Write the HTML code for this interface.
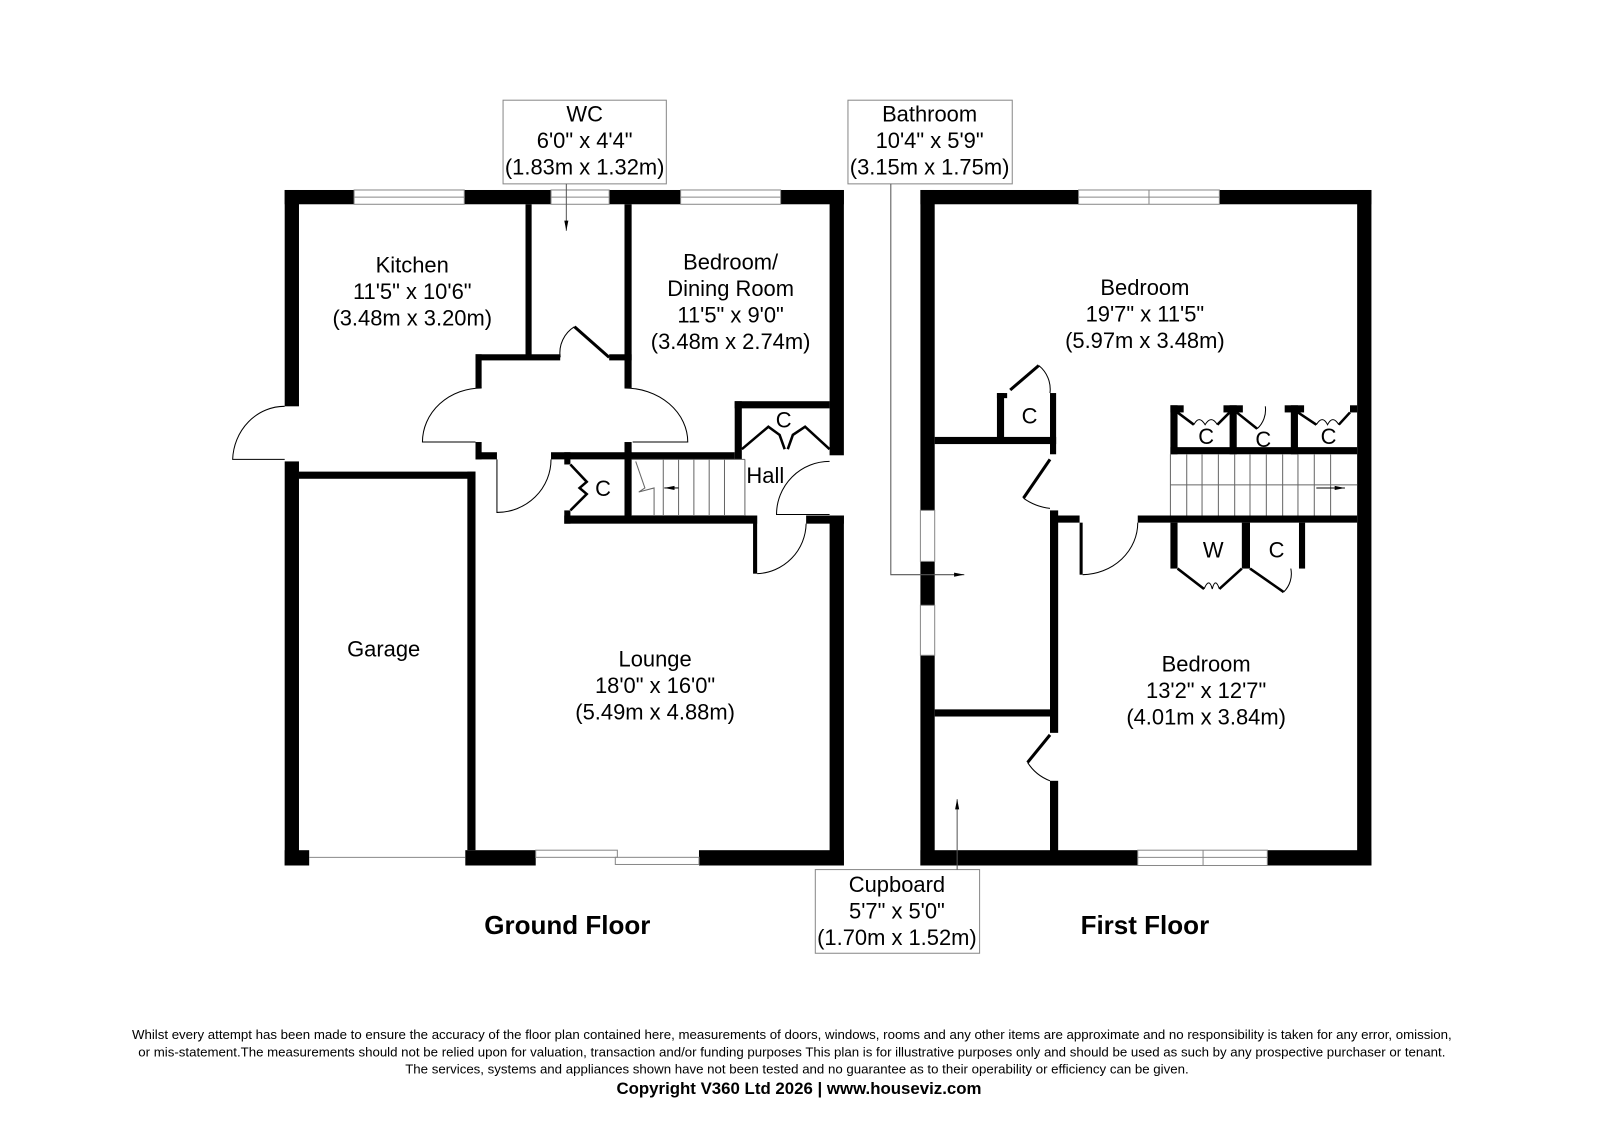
<!DOCTYPE html>
<html><head><meta charset="utf-8"><style>
html,body{margin:0;padding:0;background:#fff}
svg{display:block}
text{font-family:"Liberation Sans",Arial,sans-serif;fill:#000}
</style></head><body>
<svg width="1600" height="1131" viewBox="0 0 1568 1108" xmlns="http://www.w3.org/2000/svg">
<defs><marker id="ah" markerWidth="10" markerHeight="6" refX="10" refY="3" orient="auto"><path d="M0,1 L10,3 L0,5 z" fill="#000"/></marker></defs>
<g fill="#000">
<rect x="279" y="186" width="68" height="14"/>
<rect x="455" y="186" width="85" height="14"/>
<rect x="597" y="186" width="70" height="14"/>
<rect x="765" y="186" width="62" height="14"/>
<rect x="279" y="186" width="14" height="212"/>
<rect x="279" y="452" width="14" height="396"/>
<rect x="279" y="833" width="24" height="15"/>
<rect x="456" y="833" width="69" height="15"/>
<rect x="685" y="833" width="142" height="15"/>
<rect x="813" y="186" width="14" height="260"/>
<rect x="813" y="505" width="14" height="343"/>
<rect x="515" y="200" width="6" height="152"/>
<rect x="612" y="200" width="7" height="180"/>
<rect x="612" y="433" width="7" height="14"/>
<rect x="466" y="347" width="83" height="6"/>
<rect x="597" y="347" width="22" height="6"/>
<rect x="466" y="347" width="6" height="33"/>
<rect x="466" y="433" width="6" height="17"/>
<rect x="293" y="462" width="173" height="7"/>
<rect x="458" y="462" width="8" height="371"/>
<rect x="466" y="443" width="21" height="7"/>
<rect x="540" y="443" width="180" height="7"/>
<rect x="720" y="393" width="93" height="7"/>
<rect x="720" y="393" width="7" height="57"/>
<rect x="612" y="443" width="7" height="62"/>
<rect x="553" y="505" width="189" height="8"/>
<rect x="790" y="505" width="37" height="8"/>
<rect x="738" y="505" width="4" height="57"/>
<rect x="553" y="443" width="6" height="12"/>
<rect x="553" y="500" width="6" height="13"/>
<rect x="902" y="186" width="155" height="14"/>
<rect x="1195" y="186" width="149" height="14"/>
<rect x="902" y="186" width="14" height="314"/>
<rect x="902" y="550" width="14" height="43"/>
<rect x="902" y="642" width="14" height="206"/>
<rect x="1330" y="186" width="14" height="662"/>
<rect x="902" y="833" width="213" height="15"/>
<rect x="1242" y="833" width="102" height="15"/>
<rect x="916" y="428" width="119" height="7"/>
<rect x="977" y="385" width="7" height="45"/>
<rect x="977" y="385" width="10" height="5"/>
<rect x="1029" y="385" width="6" height="60"/>
<rect x="1029" y="500" width="8" height="218"/>
<rect x="1029" y="765" width="8" height="75"/>
<rect x="916" y="695" width="119" height="7"/>
<rect x="1035" y="505" width="23" height="7"/>
<rect x="1115" y="505" width="215" height="7"/>
<rect x="1058" y="512" width="3" height="51"/>
<rect x="1147" y="397" width="7" height="48"/>
<rect x="1147" y="397" width="13" height="7"/>
<rect x="1205" y="397" width="7" height="48"/>
<rect x="1199" y="397" width="19" height="7"/>
<rect x="1265" y="397" width="7" height="48"/>
<rect x="1259" y="397" width="19" height="7"/>
<rect x="1323" y="397" width="7" height="7"/>
<rect x="1147" y="438" width="183" height="7"/>
<rect x="1147" y="512" width="7" height="45"/>
<rect x="1217" y="512" width="8" height="45"/>
<rect x="1273" y="512" width="6" height="45"/>
</g>
<g fill="none" stroke="#000" stroke-width="1">
<rect x="347" y="186" width="108" height="14" stroke="#888"/><line x1="347" y1="193" x2="455" y2="193" stroke="#888"/>
<rect x="540" y="186" width="57" height="14" stroke="#888"/><line x1="540" y1="193" x2="597" y2="193" stroke="#888"/>
<rect x="667" y="186" width="98" height="14" stroke="#888"/><line x1="667" y1="193" x2="765" y2="193" stroke="#888"/>
<line x1="303" y1="840" x2="456" y2="840" stroke="#888"/>
<rect x="525" y="833" width="80" height="7" stroke="#888"/><rect x="603" y="840" width="82" height="7" stroke="#888"/>
<rect x="1057" y="186" width="138" height="14" stroke="#888"/><line x1="1057" y1="193" x2="1195" y2="193" stroke="#888"/><line x1="1126" y1="186" x2="1126" y2="200" stroke="#888"/>
<rect x="1115" y="833" width="127" height="15" stroke="#888"/><line x1="1115" y1="840" x2="1242" y2="840" stroke="#888"/><line x1="1179" y1="833" x2="1179" y2="848" stroke="#888"/>
<rect x="902" y="500" width="14" height="50" stroke="#888"/><rect x="902" y="593" width="14" height="49" stroke="#888"/>
<path d="M279,398 A51,54 0 0 0 228,450 L279,450"/>
<path d="M472,380 A58,53 0 0 0 414,433 L466,433"/>
<path d="M612,380 A62,53 0 0 1 674,433 L620,433"/>
<line x1="563" y1="320" x2="597" y2="350" stroke-width="3"/><path d="M549,350 A30,30 0 0 1 563,320"/>
<path d="M540,450 A53,52 0 0 1 487,502 L487,450"/>
<path d="M813,452 A52,52 0 0 0 761,504 L813,504"/>
<path d="M790,513 A50,50 0 0 1 742,562"/>
<path d="M727,440 L753,418 L764,426 L769,440 M813,440 L789,418 L777,426 L772,440" stroke-width="2.5"/>
<path d="M559,455 L575,472 L568,478 L575,484 L559,500" stroke-width="2.5"/>
<g stroke="#666"><line x1="619" y1="450" x2="730" y2="450"/><line x1="619" y1="505" x2="730" y2="505"/>
<line x1="650" y1="450" x2="650" y2="505"/><line x1="665" y1="450" x2="665" y2="505"/><line x1="680" y1="450" x2="680" y2="505"/><line x1="695" y1="450" x2="695" y2="505"/><line x1="710" y1="450" x2="710" y2="505"/><line x1="730" y1="450" x2="730" y2="505"/>
<path d="M623,452 L632,478 L626,482 L641,478 L641,505"/></g>
<line x1="665" y1="478" x2="651" y2="478" marker-end="url(#ah)"/>
<line x1="990" y1="382" x2="1018" y2="358" stroke-width="3"/><path d="M1018,358 A30,30 0 0 1 1029,385"/>
<line x1="1029" y1="450" x2="1003" y2="488" stroke-width="3"/><path d="M1003,488 A55,55 0 0 0 1029,498"/>
<path d="M1115,512 A55,51 0 0 1 1061,563"/>
<line x1="1029" y1="720" x2="1007" y2="747" stroke-width="3"/><path d="M1007,747 A45,45 0 0 0 1029,765"/>
<path d="M1154,404 L1170,416 M1193,416 L1205,404 M1212,404 L1232,420 M1272,404 L1290,416 M1312,416 L1323,404" stroke-width="2.5"/>
<path d="M1232,420 A25,25 0 0 0 1240,398 M1170,416 Q1175,406 1181,416 Q1187,406 1193,416 M1290,416 Q1296,406 1301,416 Q1306,406 1312,416"/>
<path d="M1154,557 L1180,577 M1195,577 L1217,557 M1225,557 L1258,580" stroke-width="2.5"/>
<path d="M1180,577 Q1185,565 1188,577 Q1191,565 1195,577 M1258,580 A25,25 0 0 0 1265,557"/>
<g stroke="#666"><line x1="1147" y1="445" x2="1147" y2="505"/>
<line x1="1163" y1="445" x2="1163" y2="505"/><line x1="1178" y1="445" x2="1178" y2="505"/><line x1="1194" y1="445" x2="1194" y2="505"/><line x1="1210" y1="445" x2="1210" y2="505"/><line x1="1225" y1="445" x2="1225" y2="505"/><line x1="1241" y1="445" x2="1241" y2="505"/><line x1="1257" y1="445" x2="1257" y2="505"/><line x1="1272" y1="445" x2="1272" y2="505"/><line x1="1288" y1="445" x2="1288" y2="505"/><line x1="1304" y1="445" x2="1304" y2="505"/><line x1="1147" y1="475" x2="1330" y2="475"/></g>
<line x1="1290" y1="478" x2="1318" y2="478" marker-end="url(#ah)"/>
<rect x="493" y="98" width="160" height="82" stroke="#888"/>
<line x1="555" y1="180" x2="555" y2="226" stroke="#555" marker-end="url(#ah)"/>
<rect x="831" y="98" width="161" height="82" stroke="#888"/>
<polyline points="873,180 873,563 945,563" stroke="#555" marker-end="url(#ah)"/>
<rect x="799" y="852" width="161" height="82" stroke="#888"/>
<line x1="938" y1="852" x2="938" y2="783" stroke="#555" marker-end="url(#ah)"/>
</g>
<g font-size="21.5" text-anchor="middle">
<text x="573" y="119">WC</text><text x="573" y="145">6'0" x 4'4"</text><text x="573" y="171">(1.83m x 1.32m)</text>
<text x="911" y="119">Bathroom</text><text x="911" y="145">10'4" x 5'9"</text><text x="911" y="171">(3.15m x 1.75m)</text>
<text x="879" y="874">Cupboard</text><text x="879" y="900">5'7" x 5'0"</text><text x="879" y="926">(1.70m x 1.52m)</text>
<text x="404" y="267">Kitchen</text><text x="404" y="293">11'5" x 10'6"</text><text x="404" y="319">(3.48m x 3.20m)</text>
<text x="716" y="264">Bedroom/</text><text x="716" y="290">Dining Room</text><text x="716" y="316">11'5" x 9'0"</text><text x="716" y="342">(3.48m x 2.74m)</text>
<text x="376" y="643">Garage</text>
<text x="642" y="653">Lounge</text><text x="642" y="679">18'0" x 16'0"</text><text x="642" y="705">(5.49m x 4.88m)</text>
<text x="750" y="473">Hall</text><text x="768" y="419">C</text><text x="591" y="486">C</text>
<text x="1122" y="289">Bedroom</text><text x="1122" y="315">19'7" x 11'5"</text><text x="1122" y="341">(5.97m x 3.48m)</text>
<text x="1009" y="415">C</text><text x="1182" y="435">C</text><text x="1238" y="438">C</text><text x="1302" y="435">C</text>
<text x="1189" y="546">W</text><text x="1251" y="546">C</text>
<text x="1182" y="658">Bedroom</text><text x="1182" y="684">13'2" x 12'7"</text><text x="1182" y="710">(4.01m x 3.84m)</text>
</g>
<g font-size="25.5" font-weight="bold" text-anchor="middle">
<text x="556" y="915">Ground Floor</text><text x="1122" y="915">First Floor</text>
</g>
<g font-size="13" text-anchor="middle">
<text x="776" y="1018">Whilst every attempt has been made to ensure the accuracy of the floor plan contained here, measurements of doors, windows, rooms and any other items are approximate and no responsibility is taken for any error, omission,</text>
<text x="776" y="1035">or mis-statement.The measurements should not be relied upon for valuation, transaction and/or funding purposes This plan is for illustrative purposes only and should be used as such by any prospective purchaser or tenant.</text>
<text x="781" y="1052">The services, systems and appliances shown have not been tested and no guarantee as to their operability or efficiency can be given.</text>
<text x="783" y="1072" font-size="16.5" font-weight="bold">Copyright V360 Ltd 2026 | www.houseviz.com</text>
</g>
</svg>
</body></html>
